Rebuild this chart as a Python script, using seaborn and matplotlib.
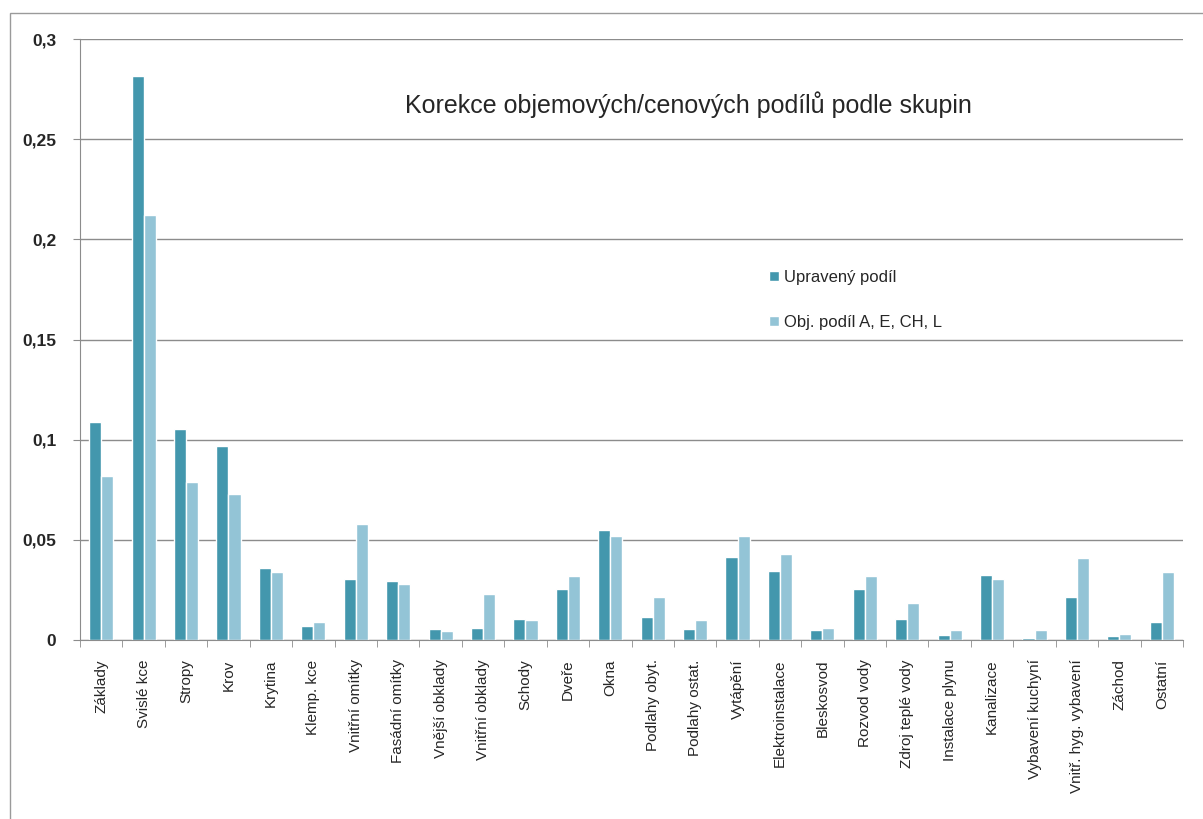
import numpy as np
import pandas as pd
import seaborn as sns
import matplotlib.pyplot as plt
from matplotlib.patches import Rectangle

# Data
kategorie = ["Základy", "Svislé kce", "Stropy", "Krov", "Krytina", "Klemp. kce",
             "Vnitřní omítky", "Fasádní omítky", "Vnější obklady", "Vnitřní obklady",
             "Schody", "Dveře", "Okna", "Podlahy obyt.", "Podlahy ostat.", "Vytápění",
             "Elektroinstalace", "Bleskosvod", "Rozvod vody", "Zdroj teplé vody",
             "Instalace plynu", "Kanalizace", "Vybavení kuchyní", "Vnitř. hyg. vybavení",
             "Záchod", "Ostatní"]
upraveny = [0.1086, 0.2815, 0.1051, 0.0966, 0.0361, 0.0072, 0.0306, 0.0296, 0.0053,
            0.0060, 0.0106, 0.0253, 0.0547, 0.0115, 0.0053, 0.0416, 0.0344, 0.0048,
            0.0253, 0.0103, 0.0023, 0.0326, 0.0012, 0.0216, 0.0018, 0.0090]
objemovy = [0.0820, 0.2122, 0.0790, 0.0730, 0.0338, 0.0090, 0.0579, 0.0278, 0.0047,
            0.0230, 0.0101, 0.0318, 0.0517, 0.0216, 0.0101, 0.0517, 0.0428, 0.0060,
            0.0318, 0.0186, 0.0048, 0.0306, 0.0048, 0.0409, 0.0030, 0.0338]
rady = ["Upravený podíl", "Obj. podíl A, E, CH, L"]
y_ticks = [0, 0.05, 0.1, 0.15, 0.2, 0.25, 0.3]

df = pd.DataFrame({
    "kategorie": kategorie * 2,
    "podil": upraveny + objemovy,
    "rada": [rady[0]] * len(kategorie) + [rady[1]] * len(kategorie),
})

sns.set_style("white")
plt.rcParams['font.family'] = ['Liberation Sans', 'DejaVu Sans']

W, H = 1203, 819
fig = plt.figure(figsize=(W / 100, H / 100), dpi=100)
ax = fig.add_axes([80 / W, 1 - 640 / H, (1183 - 80) / W, (640 - 39) / H])

sns.barplot(data=df, x="kategorie", y="podil", hue="rada",
            palette=["#4397ad", "#93c4d6"], saturation=1, width=0.57,
            ax=ax, legend=True)

ax.set_xlim(-0.5, len(kategorie) - 0.5)
ax.set_ylim(0, 0.3)
ax.set_xlabel("")
ax.set_ylabel("")

# grid and spines
ax.set_yticks(y_ticks)
ax.set_yticklabels([("%g" % v).replace(".", ",") for v in y_ticks],
                   fontsize=12.5, fontweight="bold")
ax.yaxis.grid(True, color="#8c8c8c", linewidth=1.0)
ax.set_axisbelow(True)
for s in ["top", "right"]:
    ax.spines[s].set_visible(False)
ax.spines["left"].set_color("#8c8c8c")
ax.spines["bottom"].set_color("#8c8c8c")
ax.tick_params(axis="y", length=5, color="#8c8c8c", pad=12, left=True)

# category labels, ticks between categories
ax.set_xticks(range(len(kategorie)))
ax.set_xticklabels(kategorie, rotation=90, fontsize=11, va="top", ha="center")
ax.tick_params(axis="x", length=0, pad=14)
ax.set_xticks(np.arange(-0.5, len(kategorie), 1), minor=True)
ax.tick_params(axis="x", which="minor", length=5, color="#8c8c8c", bottom=True)

leg = ax.legend(loc="upper left", bbox_to_anchor=(754 / W, 1 - 255 / H),
                bbox_transform=fig.transFigure, frameon=False, fontsize=12,
                handlelength=0.6, handleheight=0.6, handletextpad=0.3,
                labelspacing=1.8)

fig.text(405 / W, 1 - 113 / H, "Korekce objemových/cenových podílů podle skupin",
         fontsize=18, ha="left", va="baseline")

# outer chart frame
fig.patches.append(Rectangle((10 / W, -0.1), 1.2, 1.1 - 13 / H, transform=fig.transFigure,
                             fill=False, edgecolor="#9a9a9a", linewidth=1.0))

fig.savefig("out.png", dpi=100)
